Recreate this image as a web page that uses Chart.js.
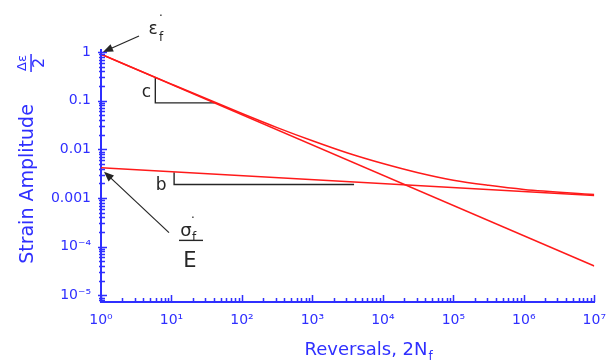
<!DOCTYPE html>
<html>
<head>
<meta charset="utf-8">
<script src="https://cdn.jsdelivr.net/npm/chart.js@4.4.1/dist/chart.umd.min.js"></script>
<style>
  html, body { margin: 0; padding: 0; background: #fff; }
  #wrap { width: 616px; height: 360px; }
</style>
</head>
<body>
<div id="wrap"><canvas id="strainLife"></canvas></div>
<script>
// Strain-life data (log-log)
const reversals = [1, 10, 100, 316, 1000, 3162, 10000, 31623, 100000, 316228, 1000000, 10000000];
const totalStrain = [0.90, 0.219, 0.0546, 0.0280, 0.0150, 0.0084, 0.0051, 0.00330, 0.00232, 0.00182, 0.00150, 0.00118];

const plasticEnds = [1, 10000000];
const plasticStrain = [0.90, 0.00004];

const elasticEnds = [1, 10000000];
const elasticStrain = [0.0042, 0.00112];

// slope triangles
const slopeCX = [5.9, 5.9, 41];
const slopeCY = [0.30, 0.09, 0.09];
const slopeBX = [10.9, 10.9, 3900];
const slopeBY = [0.0034, 0.0019, 0.0019];

const xTicks = [1, 10, 100, 1000, 10000, 100000, 1000000, 10000000];
const xTickLabels = ['10⁰', '10¹', '10²', '10³', '10⁴', '10⁵', '10⁶', '10⁷'];
const yTicks = [0.00001, 0.0001, 0.001, 0.01, 0.1, 1];
const yTickLabels = ['10⁻⁵', '10⁻⁴', '0.001', '0.01', '0.1', '1'];

const BLUE = '#2f2fff';
const RED = '#ff1a1a';
const INK = '#262626';

Chart.defaults.font.family = 'DejaVu Sans';

function pts(xs, ys) {
  return xs.map((v, i) => ({ x: v, y: ys[i] }));
}

function arrow(ctx, x0, y0, x1, y1) {
  const a = Math.atan2(y1 - y0, x1 - x0);
  const len = 10, half = 4;
  ctx.beginPath();
  ctx.moveTo(x0, y0);
  ctx.lineTo(x1 - Math.cos(a) * len * 0.8, y1 - Math.sin(a) * len * 0.8);
  ctx.stroke();
  ctx.beginPath();
  ctx.moveTo(x1, y1);
  ctx.lineTo(x1 - Math.cos(a) * len + Math.sin(a) * half, y1 - Math.sin(a) * len - Math.cos(a) * half);
  ctx.lineTo(x1 - Math.cos(a) * len - Math.sin(a) * half, y1 - Math.sin(a) * len + Math.cos(a) * half);
  ctx.closePath();
  ctx.fill();
}

// inside ticks, axis titles and annotations
const decorations = {
  id: 'decorations',
  afterDraw(chart) {
    const { ctx, scales: { x, y } } = chart;
    const left = x.left, bottom = y.bottom;
    ctx.save();

    // tick marks
    ctx.strokeStyle = BLUE;
    ctx.lineWidth = 1.5;
    ctx.beginPath();
    for (let d = -6; d <= 0; d++) {
      for (let k = 1; k <= 9; k++) {
        const v = k * Math.pow(10, d);
        if (v < y.min || v > y.max) continue;
        const py = Math.round(y.getPixelForValue(v)) + 0.5;
        const major = k === 1;
        ctx.moveTo(left - (major ? 3 : 2), py);
        ctx.lineTo(left + (major ? 6 : 4), py);
      }
    }
    for (let d = 0; d <= 7; d++) {
      for (let k = 1; k <= 9; k++) {
        const v = k * Math.pow(10, d);
        if (v < x.min || v > x.max) continue;
        const px = Math.round(x.getPixelForValue(v)) + 0.5;
        const major = k === 1;
        ctx.moveTo(px, bottom);
        ctx.lineTo(px, bottom - (major ? 7 : 4));
      }
    }
    ctx.stroke();

    // x title
    ctx.fillStyle = BLUE;
    ctx.textBaseline = 'alphabetic';
    ctx.font = '18px "DejaVu Sans"';
    ctx.textAlign = 'left';
    const xt = 'Reversals, 2N';
    const xtw = ctx.measureText(xt).width;
    const xtx = 366 - xtw / 2;
    ctx.fillText(xt, xtx, 355);
    ctx.font = '12px "DejaVu Sans"';
    ctx.fillText('f', xtx + xtw + 1, 360);

    // y title
    ctx.save();
    ctx.translate(28, 184);
    ctx.rotate(-Math.PI / 2);
    ctx.font = '19px "DejaVu Sans"';
    ctx.textAlign = 'center';
    ctx.textBaseline = 'middle';
    ctx.fillText('Strain Amplitude', 0, 0);
    ctx.restore();

    ctx.save();
    ctx.translate(31, 63);
    ctx.rotate(-Math.PI / 2);
    ctx.textAlign = 'center';
    ctx.textBaseline = 'middle';
    ctx.font = '13px "DejaVu Sans"';
    ctx.fillText('Δε', 0, -8);
    ctx.fillRect(-9, -0.7, 18, 1.5);
    ctx.font = '16px "DejaVu Sans"';
    ctx.fillText('2', 0, 9);
    ctx.restore();

    // annotations
    ctx.fillStyle = INK;
    ctx.strokeStyle = INK;
    ctx.lineWidth = 1.2;
    const tipE = { x: x.getPixelForValue(plasticEnds[0]) + 2, y: y.getPixelForValue(1) };
    arrow(ctx, tipE.x + 36, tipE.y - 16, tipE.x, tipE.y);
    ctx.textAlign = 'center';
    ctx.textBaseline = 'alphabetic';
    ctx.font = '17px "DejaVu Sans"';
    ctx.fillText('ε', tipE.x + 50, tipE.y - 18);
    ctx.font = '12px "DejaVu Sans"';
    ctx.fillText('f', tipE.x + 58, tipE.y - 11);
    ctx.fillText('·', tipE.x + 58, tipE.y - 32);

    const tipS = { x: x.getPixelForValue(elasticEnds[0]) + 3, y: y.getPixelForValue(elasticStrain[0]) + 4 };
    arrow(ctx, tipS.x + 65, tipS.y + 61, tipS.x, tipS.y);
    ctx.font = '18px "DejaVu Sans"';
    ctx.fillText('σ', tipS.x + 82, tipS.y + 64);
    ctx.font = '12px "DejaVu Sans"';
    ctx.fillText('f', tipS.x + 90, tipS.y + 69);
    ctx.fillText('·', tipS.x + 89, tipS.y + 50);
    ctx.fillRect(tipS.x + 75, tipS.y + 68, 24, 1.4);
    ctx.font = '21px "DejaVu Sans"';
    ctx.fillText('E', tipS.x + 86, tipS.y + 95);

    // slope labels
    ctx.font = '17px "DejaVu Sans"';
    ctx.textBaseline = 'middle';
    ctx.fillText('c', x.getPixelForValue(slopeCX[0]) - 9, (y.getPixelForValue(slopeCY[0]) + y.getPixelForValue(slopeCY[1])) / 2 + 2);
    ctx.fillText('b', x.getPixelForValue(slopeBX[0]) - 13, y.getPixelForValue(slopeBY[1]) + 1);

    ctx.restore();
  }
};

const lineStyle = (color, width) => ({
  borderColor: color,
  borderWidth: width,
  pointRadius: 0,
  fill: false
});

new Chart(document.getElementById('strainLife'), {
  type: 'line',
  data: {
    datasets: [
      { label: 'Total', data: pts(reversals, totalStrain), cubicInterpolationMode: 'monotone', ...lineStyle(RED, 1.5) },
      { label: 'Plastic', data: pts(plasticEnds, plasticStrain), ...lineStyle(RED, 1.5) },
      { label: 'Elastic', data: pts(elasticEnds, elasticStrain), ...lineStyle(RED, 1.5) },
      { label: 'c', data: pts(slopeCX, slopeCY), ...lineStyle(INK, 1.4) },
      { label: 'b', data: pts(slopeBX, slopeBY), ...lineStyle(INK, 1.4) }
    ]
  },
  options: {
    responsive: true,
    maintainAspectRatio: false,
    animation: false,
    layout: { padding: { left: 0, top: 50, right: 15, bottom: 0 } },
    plugins: {
      legend: { display: false },
      tooltip: { enabled: false }
    },
    scales: {
      x: {
        type: 'logarithmic',
        min: 1,
        max: 10000000,
        afterBuildTicks: s => { s.ticks = xTicks.map(v => ({ value: v })); },
        afterFit: s => { s.height = 58; },
        ticks: {
          autoSkip: false,
          maxRotation: 0,
          padding: 10,
          color: BLUE,
          font: { size: 14 },
          callback: (v, i) => xTickLabels[i]
        },
        grid: { display: true, drawOnChartArea: false, drawTicks: false },
        border: { display: true, color: BLUE, width: 2 }
      },
      y: {
        type: 'logarithmic',
        min: 0.0000073,
        max: 1.1,
        afterBuildTicks: s => { s.ticks = yTicks.map(v => ({ value: v })); },
        afterFit: s => { s.width = 101; },
        ticks: {
          autoSkip: false,
          padding: 10,
          color: BLUE,
          font: { size: 14 },
          callback: (v, i) => yTickLabels[i]
        },
        grid: { display: true, drawOnChartArea: false, drawTicks: false },
        border: { display: true, color: BLUE, width: 2 }
      }
    }
  },
  plugins: [decorations]
});
</script>
</body>
</html>
